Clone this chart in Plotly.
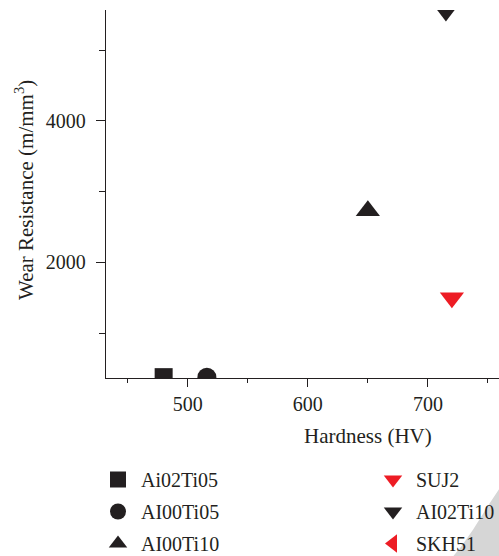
import plotly.graph_objects as go

# ---- data ----
series_names = ["Ai02Ti05", "AI00Ti05", "AI00Ti10", "SUJ2", "AI02Ti10", "SKH51"]
hardness = [480, 516, 650, 720, 715, 790]
wear_resistance = [380, 380, 2730, 1500, 5526, 2200]
symbols = ["square", "circle", "triangle-up", "triangle-down", "triangle-down", "triangle-left"]
colors = ["#231f20", "#231f20", "#231f20", "#ed1c24", "#231f20", "#ed1c24"]
sizes = [18, 19, 21, 21, 17, 20]
legend_ids = ["legend", "legend", "legend", "legend2", "legend2", "legend2"]

x_title = "Hardness (HV)"
y_title = "Wear Resistance (m/mm<sup>3</sup>)"

FONT = "Liberation Serif"
TXT = "#231f20"

fig = go.Figure()
for i, name in enumerate(series_names):
    fig.add_trace(go.Scatter(
        x=[hardness[i]], y=[wear_resistance[i]], mode="markers", name=name,
        marker=dict(symbol=symbols[i], color=colors[i], size=sizes[i], line=dict(width=0)),
        legend=legend_ids[i], legendgroup=name, cliponaxis=True,
    ))

# plot area: x 106..499, y 10..378 (pixels)
L, T, W, H = 106, 10, 393, 368

def px(x):
    return (x - L) / W

def py(y):
    return (T + H - y) / H

fig.update_layout(
    width=499, height=556,
    margin=dict(l=L, r=499 - L - W, t=T, b=556 - T - H, pad=0, autoexpand=False),
    paper_bgcolor="white", plot_bgcolor="white",
    font=dict(family=FONT, size=20, color=TXT),
    showlegend=True,
    legend=dict(x=px(95), y=py(460), xanchor="left", yanchor="top",
                bgcolor="rgba(255,255,255,0)", borderwidth=0, tracegroupgap=3, itemwidth=36,
                font=dict(family=FONT, size=20, color=TXT)),
    legend2=dict(x=px(370), y=py(460), xanchor="left", yanchor="top",
                 bgcolor="rgba(255,255,255,0)", borderwidth=0, tracegroupgap=3, itemwidth=36,
                 font=dict(family=FONT, size=20, color=TXT)),
    xaxis=dict(range=[432, 759.2], showgrid=False, zeroline=False,
               showline=True, linecolor="#231f20", linewidth=1.3,
               ticks="outside", ticklen=8, tickwidth=1.3, tickcolor="#231f20",
               tick0=500, dtick=100,
               minor=dict(ticks="outside", ticklen=4, tickwidth=1.3, tickcolor="#231f20", dtick=50),
               tickfont=dict(family=FONT, size=20, color=TXT)),
    yaxis=dict(range=[368, 5567], showgrid=False, zeroline=False,
               showline=True, linecolor="#231f20", linewidth=1.3,
               ticks="outside", ticklen=9, tickwidth=1.3, tickcolor="#231f20",
               tick0=0, dtick=2000, ticklabelstandoff=6,
               minor=dict(ticks="outside", ticklen=6, tickwidth=1.3, tickcolor="#231f20", dtick=1000),
               tickfont=dict(family=FONT, size=20, color=TXT)),
)

fig.add_annotation(text=x_title, xref="paper", yref="paper",
                   x=px(368), y=py(436), xanchor="center", yanchor="middle",
                   showarrow=False, font=dict(family=FONT, size=21, color=TXT))
fig.add_annotation(text=y_title, xref="paper", yref="paper",
                   x=px(25), y=py(190), xanchor="center", yanchor="middle",
                   textangle=-90, showarrow=False, font=dict(family=FONT, size=21, color=TXT))

# light grey watermark wedge in the bottom-right corner
wedge = [(499.5, 488.5), (490, 502.7), (473.3, 529.3), (461.7, 546), (453, 556.5),
         (453, 560), (505, 560), (505, 485)]
path = "M " + " L ".join(f"{px(a):.5f},{py(b):.5f}" for a, b in wedge) + " Z"
fig.add_shape(type="path", xref="paper", yref="paper", layer="above",
              path=path, fillcolor="#d6d6d6", line=dict(width=0))

fig.write_html("out.html")
